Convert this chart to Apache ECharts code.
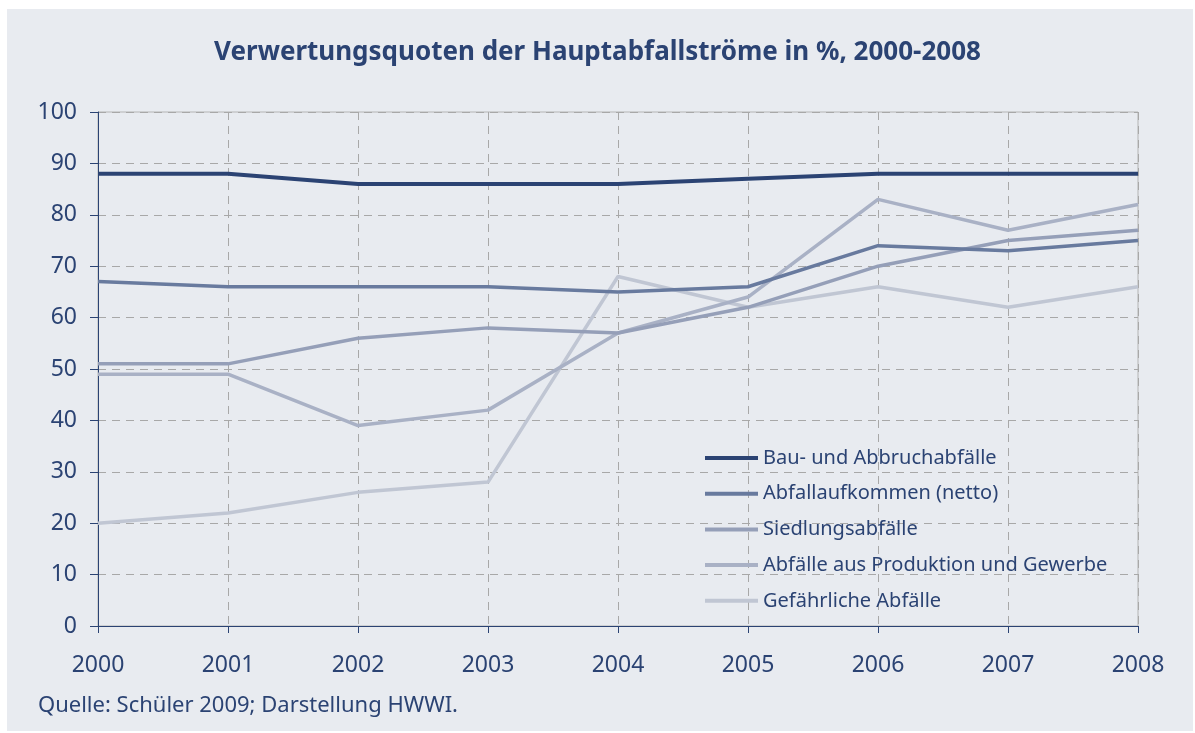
<!DOCTYPE html>
<html>
<head>
<meta charset="utf-8">
<script src="https://cdn.jsdelivr.net/npm/echarts@6/dist/echarts.min.js"></script>
<style>
  html, body { margin: 0; padding: 0; background: #fff; }
  #panel { position: absolute; left: 7px; top: 9px; width: 1186px; height: 722px; background: #e8ebf0; }
  #main { position: absolute; left: 0; top: 0; width: 1195px; height: 733px; }
</style>
</head>
<body>
<div id="panel"></div>
<div id="main"></div>
<script>
// Daten
var years = ['2000', '2001', '2002', '2003', '2004', '2005', '2006', '2007', '2008'];
var bau = [88, 88, 86, 86, 86, 87, 88, 88, 88];
var abfallaufkommen = [67, 66, 66, 66, 65, 66, 74, 73, 75];
var siedlung = [51, 51, 56, 58, 57, 62, 70, 75, 77];
var produktion = [49, 49, 39, 42, 57, 64, 83, 77, 82];
var gefaehrlich = [20, 22, 26, 28, 68, 62, 66, 62, 66];
var names = ['Bau- und Abbruchabfälle', 'Abfallaufkommen (netto)', 'Siedlungsabfälle',
             'Abfälle aus Produktion und Gewerbe', 'Gefährliche Abfälle'];
var colors = ['#2b4373', '#687a9e', '#959fb8', '#a9b1c5', '#c0c6d3'];

var navy = '#2b4373';
var font = '"Noto Sans", sans-serif';

var chart = echarts.init(document.getElementById('main'));

function line(i, data, w) {
    return {
        name: names[i],
        type: 'line',
        data: data,
        symbol: 'none',
        z: 10 - i,
        lineStyle: { color: colors[i], width: w },
        itemStyle: { color: colors[i] }
    };
}

chart.setOption({
    animation: false,
    backgroundColor: 'transparent',
    title: {
        text: 'Verwertungsquoten der Hauptabfallströme in %, 2000-2008',
        left: 'center',
        top: 35,
        textStyle: { fontFamily: font, fontSize: 26, fontWeight: 'bold', color: navy }
    },
    grid: {
        left: 98, right: 57, top: 112, bottom: 107,
        show: true, borderColor: '#b4b4b4', borderWidth: 1
    },
    legend: {
        orient: 'vertical',
        left: 700,
        top: 437,
        icon: 'rect',
        itemWidth: 53,
        itemHeight: 4,
        itemGap: 3.7,
        textStyle: { fontFamily: font, fontSize: 20, color: navy, lineHeight: 32, padding: [0, 0, 0, 0] },
        data: names
    },
    xAxis: {
        type: 'category',
        data: years,
        boundaryGap: false,
        axisLine: { lineStyle: { color: navy, width: 1 } },
        axisTick: { show: true, length: 7, lineStyle: { color: navy } },
        axisLabel: { fontFamily: font, fontSize: 23, color: navy, margin: 28 },
        splitLine: { show: true, lineStyle: { color: '#a8a8a8', type: [8, 6], width: 1 } }
    },
    yAxis: {
        type: 'value',
        min: 0, max: 100, interval: 10,
        axisLine: { show: true, lineStyle: { color: navy, width: 1 } },
        axisTick: { show: true, length: 8, lineStyle: { color: navy } },
        axisLabel: { fontFamily: font, fontSize: 23, color: navy, margin: 21 },
        splitLine: { show: true, lineStyle: { color: '#a8a8a8', type: [8, 6], width: 1 } }
    },
    graphic: [{
        type: 'text',
        left: 38,
        top: 695,
        style: { text: 'Quelle: Schüler 2009; Darstellung HWWI.', fontFamily: font, fontSize: 22, fill: navy }
    }],
    series: [
        line(0, bau, 4),
        line(1, abfallaufkommen, 3.5),
        line(2, siedlung, 3.5),
        line(3, produktion, 3.5),
        line(4, gefaehrlich, 3.5)
    ]
});
</script>
</body>
</html>
